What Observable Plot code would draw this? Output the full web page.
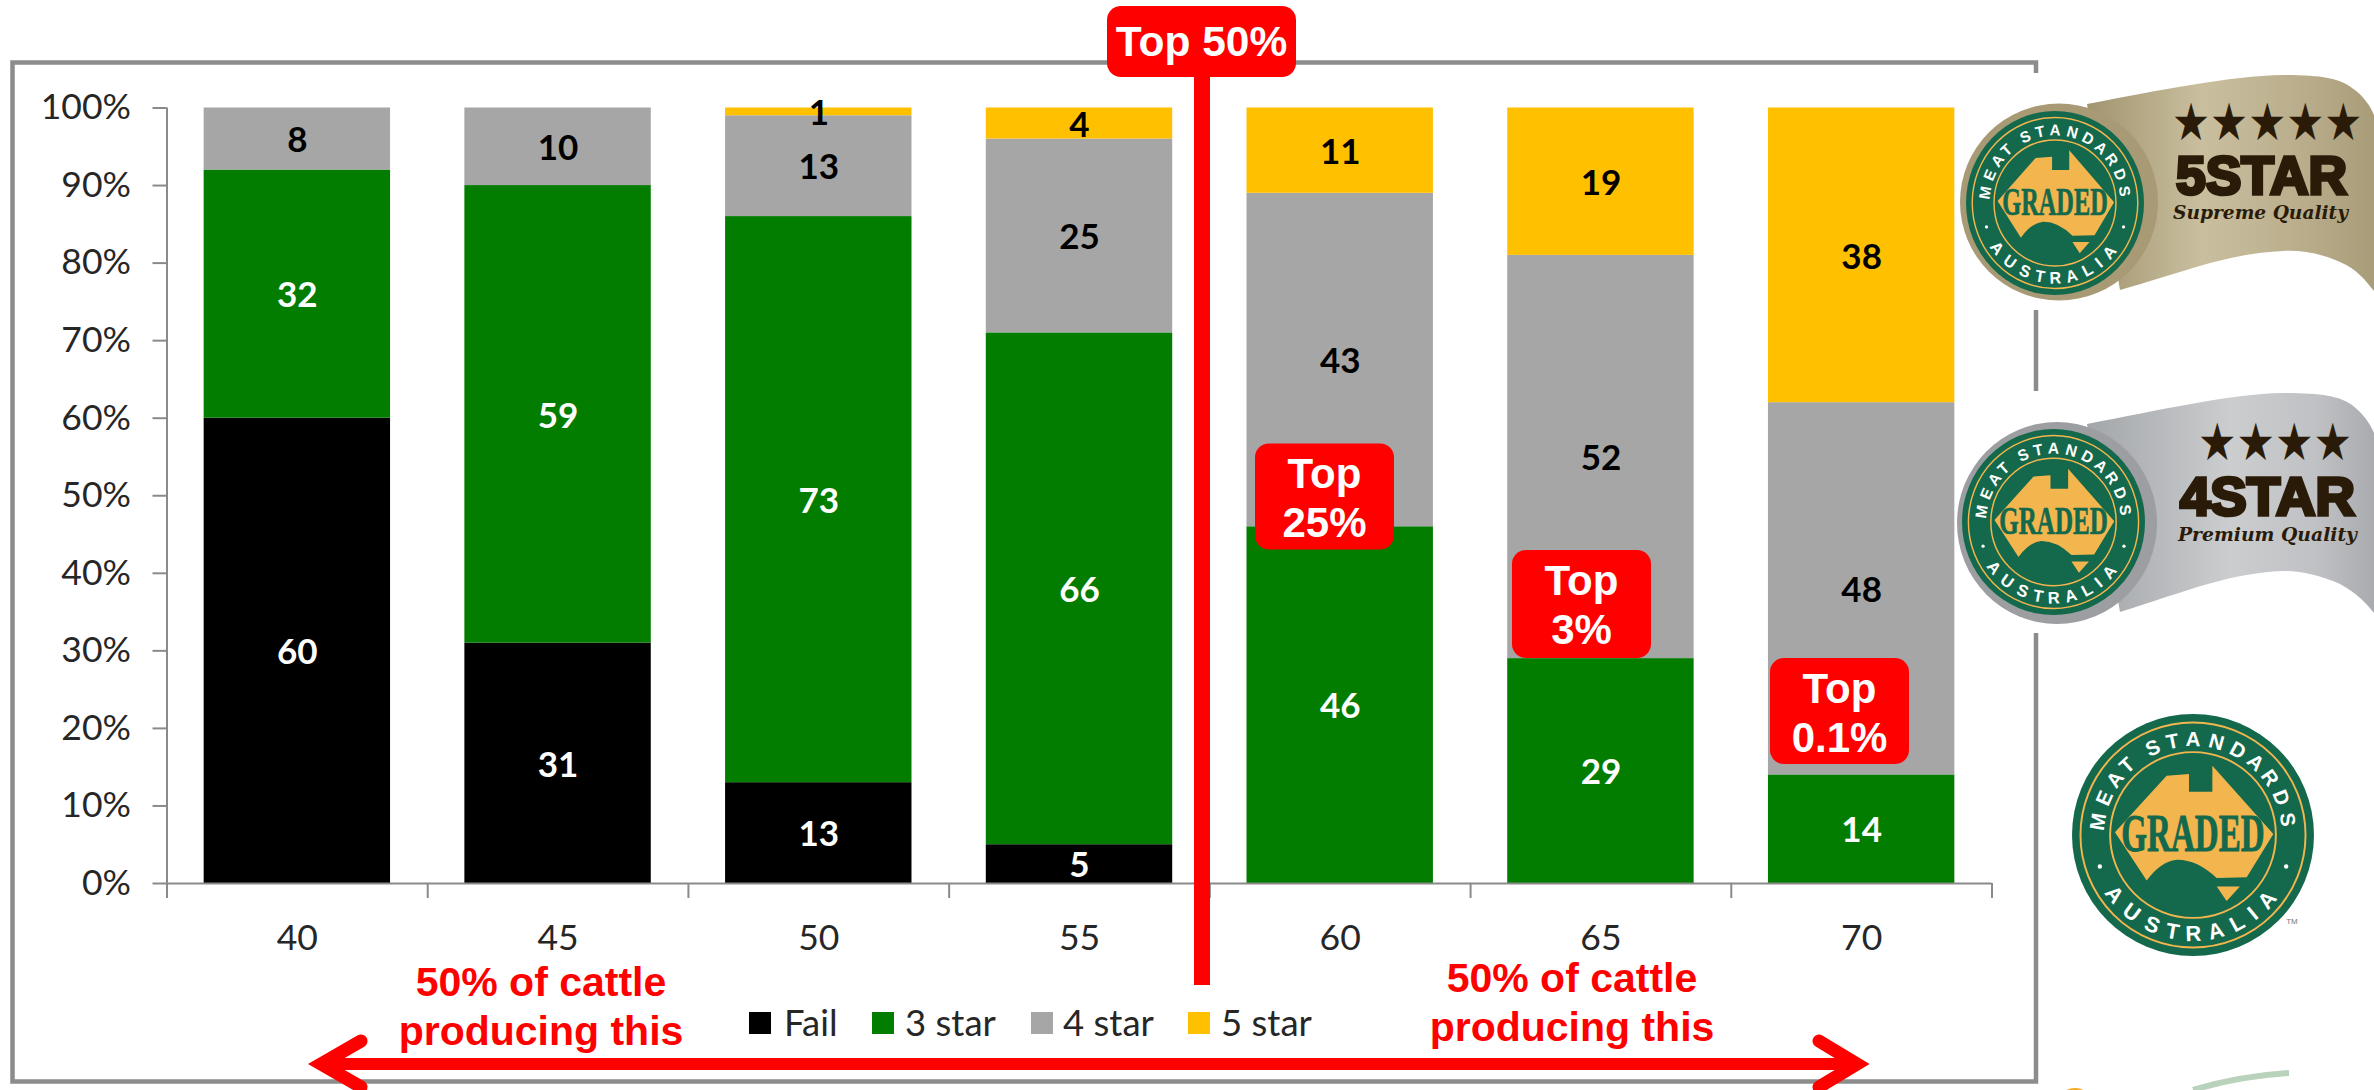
<!DOCTYPE html>
<html>
<head>
<meta charset="utf-8">
<style>
html,body{margin:0;padding:0;background:#fff;width:2374px;height:1090px;overflow:hidden}
#stage{position:relative;width:2374px;height:1090px}
#stage svg{position:absolute;left:0;top:0}
.legend{position:absolute;font:36.5px Lato,sans-serif;color:#262626;line-height:1;white-space:nowrap}
.sw{position:absolute;width:22px;height:22px}
</style>
<script src="https://cdn.jsdelivr.net/npm/d3@7"></script>
<script src="https://cdn.jsdelivr.net/npm/@observablehq/plot@0.6"></script>
</head>
<body>
<div id="stage"></div>
<script>
// ---- chart data ----
const ages = [40, 45, 50, 55, 60, 65, 70];
const grades = ["Fail", "3 star", "4 star", "5 star"];
const fail  = [60, 31, 13, 5, 0, 0, 0];
const star3 = [32, 59, 73, 66, 46, 29, 14];
const star4 = [8, 10, 13, 25, 43, 52, 48];
const star5 = [0, 0, 1, 4, 11, 19, 38];
const colours = ["#000000", "#027D00", "#A6A6A6", "#FFC000"];
const labelColours = ["#ffffff", "#ffffff", "#000000", "#000000"];
const yTicks = [0, 10, 20, 30, 40, 50, 60, 70, 80, 90, 100];

const series = [fail, star3, star4, star5];
const rows = grades.flatMap((grade, g) =>
  ages.map((age, i) => ({age, grade, g, value: series[g][i]})));

// ---- layout ----
const W = 2374, H = 1090;
const mL = 166.5, mR = W - 1991.5, mT = 107.5, mB = H - 883;
const step = (W - mL - mR) / ages.length;
const tickDrop = 15 / ((H - mT - mB) / 100);
const axisGrey = "#8a8a8a", axisText = "#262626";

const stackFn = (extra) => Plot.stackY({order: "z"}, {x: "age", y: "value", z: "g", ...extra});

const chart = Plot.plot({
  width: W, height: H,
  marginLeft: mL, marginRight: mR, marginTop: mT, marginBottom: mB,
  style: {fontFamily: "Lato, sans-serif", background: "transparent", overflow: "visible"},
  x: {type: "band", domain: ages, paddingInner: 0.285, paddingOuter: 0.1425, round: false, label: null},
  y: {domain: [0, 100], label: null},
  color: {domain: grades, range: colours},
  marks: [
    Plot.barY(rows, stackFn({fill: "grade"})),
    Plot.text(rows.filter(d => d.value > 0), stackFn({
      text: "value", fill: d => labelColours[d.g],
      fontSize: 35, fontWeight: 700, dy: 2
    })),
    Plot.ruleY([0], {stroke: axisGrey, strokeWidth: 2}),
    Plot.ruleX([ages[0]], {x: d => d, dx: -step / 2, y1: -tickDrop, y2: 100, stroke: axisGrey, strokeWidth: 2}),
    Plot.ruleX(ages, {x: d => d, dx: step / 2, y1: 0, y2: -tickDrop, stroke: axisGrey, strokeWidth: 2}),
    Plot.axisY({ticks: yTicks, tickFormat: d => d + "%", tickSize: 14, tickPadding: 22,
      fontSize: 35.5, stroke: axisGrey, strokeWidth: 2, color: axisText, label: null}),
    Plot.axisX({tickSize: 0, tickPadding: 41, fontSize: 35.5, color: axisText, label: null})
  ]
});
const stage = document.getElementById("stage");

// ---- frame behind everything ----
const NS = "http://www.w3.org/2000/svg";
const under = d3.create("svg").attr("width", W).attr("height", H).attr("xmlns", NS);
const framePath = "M2036,73 V62.5 H12.5 V1081.5 H2036 V633 M2036,310 V391";
under.append("path").attr("d", framePath).attr("fill", "none").attr("stroke", "#8c8c8c").attr("stroke-width", 4.5);
stage.appendChild(under.node());
stage.appendChild(chart);

// ---- annotations and badges ----
const red = "#FF0000";
const sv = d3.create("svg").attr("width", W).attr("height", H).attr("xmlns", NS);
const defs = sv.append("defs");
const grad = (id, stops) => {
  const g = defs.append("linearGradient").attr("id", id);
  stops.forEach(([o, c]) => g.append("stop").attr("offset", o).attr("stop-color", c));
};
grad("tan", [[0, "#A2946F"], [0.4, "#C9BF9F"], [0.75, "#B9AD8B"], [1, "#A99C79"]]);
grad("silver", [[0, "#A3A6A9"], [0.5, "#CBCDCF"], [0.8, "#BFC1C4"], [1, "#A9ABAE"]]);

// vertical marker
sv.append("rect").attr("x", 1194).attr("y", 70).attr("width", 16).attr("height", 915).attr("fill", red);

// horizontal double arrow
sv.append("rect").attr("x", 320).attr("y", 1058).attr("width", 1538).attr("height", 12).attr("fill", red);
[["M361,1041 L321,1064 L361,1087"], ["M1819,1041 L1857,1064 L1819,1087"]].forEach(([d]) =>
  sv.append("path").attr("d", d).attr("fill", "none").attr("stroke", red)
    .attr("stroke-width", 13).attr("stroke-linecap", "round").attr("stroke-linejoin", "miter"));

const redFont = "'Liberation Sans', Arial, sans-serif";
// red call-out boxes
const callouts = [
  {x: 1107, y: 6, w: 189, h: 71, size: 42.5, lines: ["Top 50%"], base: [50]},
  {x: 1255, y: 443.5, w: 139, h: 106, size: 42, lines: ["Top", "25%"], base: [44.5, 93.5]},
  {x: 1512, y: 550, w: 139, h: 108, size: 42, lines: ["Top", "3%"], base: [45, 94]},
  {x: 1770, y: 658, w: 139, h: 106, size: 42, lines: ["Top", "0.1%"], base: [45, 94]}
];
callouts.forEach(c => {
  sv.append("rect").attr("x", c.x).attr("y", c.y).attr("width", c.w).attr("height", c.h)
    .attr("rx", 14).attr("fill", red);
  c.lines.forEach((t, i) => sv.append("text").attr("x", c.x + c.w / 2).attr("y", c.y + c.base[i])
    .attr("text-anchor", "middle").attr("fill", "#fff")
    .attr("font-family", redFont).attr("font-weight", 700).attr("font-size", c.size).text(t));
});
// red notes
const noteLines = ["50% of cattle", "producing this"];
[{x: 541, y: [996, 1045]}, {x: 1572, y: [992, 1041]}].forEach(n =>
  noteLines.forEach((t, i) => sv.append("text").attr("x", n.x).attr("y", n.y[i])
    .attr("text-anchor", "middle").attr("fill", red)
    .attr("font-family", redFont).attr("font-weight", 700).attr("font-size", 41).text(t)));

// badge
const dark = "#14694C", gold = "#F3B64F";
let pid = 0;
function seal(cx, cy, rx, ry) {
  const g = sv.append("g").attr("transform", `translate(${cx},${cy}) scale(${rx},${ry})`);
  g.append("circle").attr("r", 1).attr("fill", dark);
  g.append("circle").attr("r", 0.93).attr("fill", "none").attr("stroke", gold).attr("stroke-width", 0.016);
  g.append("circle").attr("r", 0.685).attr("fill", "none").attr("stroke", gold).attr("stroke-width", 0.016);
  g.append("path").attr("d", "M-.645,-.022 L-.218,-.49 L-.033,-.504 L-.033,-.358 L.16,-.358 L.16,-.573 L.664,-.008 L.444,.35 L.196,.355 Q.03,.2 -.135,.204 Q-.27,.22 -.383,.377 Z").attr("fill", gold);
  g.append("path").attr("d", "M.196,.425 L.388,.425 L.278,.545 Z").attr("fill", gold);
  g.append("text").attr("x", 0).attr("y", 0.13).attr("text-anchor", "middle")
    .attr("font-family", "'Liberation Serif', serif").attr("font-weight", 700)
    .attr("font-size", 0.44).attr("fill", dark).attr("stroke", dark).attr("stroke-width", 0.008)
    .attr("textLength", 1.185).attr("lengthAdjust", "spacingAndGlyphs").text("GRADED");
  const idA = "arcTop" + (++pid), idB = "arcBot" + pid;
  const rt = 0.735, rb = 0.875;
  const ax = rt * Math.cos(0.7), ay = rt * Math.sin(0.7);
  defs.append("path").attr("id", idA).attr("d", `M${-ax},${ay} A${rt},${rt} 0 1 1 ${ax},${ay}`);
  defs.append("path").attr("id", idB).attr("d", `M${-rb},0 A${rb},${rb} 0 0 0 ${rb},0`);
  const arc = (id, t, ls, fs) => g.append("text").attr("font-family", "'Liberation Sans', sans-serif")
    .attr("font-weight", 700).attr("font-size", fs).attr("fill", "#fff").attr("letter-spacing", ls)
    .attr("text-anchor", "middle").append("textPath").attr("href", "#" + id)
    .attr("startOffset", "50%").text(t);
  arc(idA, "MEAT STANDARDS", 0.035, 0.17);
  arc(idB, "AUSTRALIA", 0.06, 0.18);
  [[-.77, .26], [.77, .26]].forEach(([x, y]) => g.append("circle").attr("cx", x).attr("cy", y).attr("r", .018).attr("fill", "#fff"));
}
function badge(o) {
  sv.append("path").attr("d", o.ribbon).attr("fill", `url(#${o.fill})`);
  sv.append("ellipse").attr("cx", o.c[0]).attr("cy", o.c[1]).attr("rx", o.c[2]).attr("ry", o.c[3]).attr("fill", o.edge);
  seal(o.s[0], o.s[1], o.s[2], o.s[3]);
  const ink = "#2A1B08";
  const starSize = 52, starAdvance = 0.838;
  const sx = o.starW / (o.stars.length * starAdvance * starSize);
  sv.append("text").attr("transform", `translate(${o.starX},${o.starY}) scale(${sx},1)`)
    .attr("font-family", "'DejaVu Sans', sans-serif")
    .attr("font-size", starSize).attr("fill", ink).text(o.stars);
  sv.append("text").attr("x", o.bigX).attr("y", o.bigY).attr("font-family", "'Liberation Sans', sans-serif")
    .attr("font-weight", 700).attr("font-size", 53).attr("fill", ink).attr("stroke", ink).attr("stroke-width", 3.5)
    .attr("textLength", o.bigW).attr("lengthAdjust", "spacingAndGlyphs").text(o.big);
  sv.append("text").attr("x", o.subX).attr("y", o.subY).attr("font-family", "'DejaVu Serif', serif")
    .attr("font-weight", 700).attr("font-style", "italic").attr("font-size", 19).attr("fill", ink)
    .attr("textLength", o.subW).attr("lengthAdjust", "spacingAndGlyphs").text(o.sub);
}
badge({
  ribbon: "M2087,104 C2160,90 2230,76 2283,75 C2320,75 2340,78 2352,88 C2364,96 2370,106 2374,115 L2374,291 C2365,280 2358,270 2340,262 C2320,253 2300,250 2283,251 C2230,253 2190,270 2120,290 Z",
  fill: "tan", edge: "#A89A75",
  c: [2059, 202, 99, 98.5], s: [2055, 203, 89, 92],
  stars: "★★★★★", starX: 2172, starY: 140, starW: 178,
  big: "5STAR", bigX: 2176, bigY: 194, bigW: 171,
  sub: "Supreme Quality", subX: 2173, subY: 219, subW: 175
});
badge({
  ribbon: "M2087,424 C2160,410 2230,394 2283,393 C2320,393 2340,396 2352,405 C2364,414 2370,424 2374,433 L2374,613 C2365,602 2358,594 2340,584 C2320,575 2300,571 2283,571 C2230,573 2190,590 2120,612 Z",
  fill: "silver", edge: "#9C9EA1",
  c: [2057, 523, 100, 101], s: [2053.5, 522, 91.5, 93],
  stars: "★★★★", starX: 2198, starY: 460, starW: 144,
  big: "4STAR", bigX: 2180, bigY: 515, bigW: 175,
  sub: "Premium Quality", subX: 2178, subY: 541, subW: 179
});
seal(2193, 835, 121, 121);
sv.append("text").attr("x", 2292).attr("y", 924).attr("text-anchor", "middle").attr("font-family", "'Liberation Sans', sans-serif")
  .attr("font-size", 8).attr("fill", "#777").text("TM");

// cropped logo at the lower right corner
sv.append("path").attr("d", "M2193,1090 Q2240,1076 2289,1073").attr("fill", "none").attr("stroke", "#B9D2BB").attr("stroke-width", 6);
sv.append("ellipse").attr("cx", 2075).attr("cy", 1118).attr("rx", 24).attr("ry", 30).attr("fill", "#F6A91F");

stage.appendChild(sv.node());

// ---- legend ----
const legendX = [[749, 784], [872, 905], [1031, 1063], [1188, 1221]];
grades.forEach((g, i) => {
  const s = document.createElement("div");
  s.className = "sw";
  s.style.cssText = `left:${legendX[i][0]}px;top:1012px;background:${colours[i]}`;
  stage.appendChild(s);
  const t = document.createElement("div");
  t.className = "legend";
  t.style.cssText = `left:${legendX[i][1]}px;top:1004px`;
  t.textContent = g;
  stage.appendChild(t);
});
</script>
</body>
</html>
